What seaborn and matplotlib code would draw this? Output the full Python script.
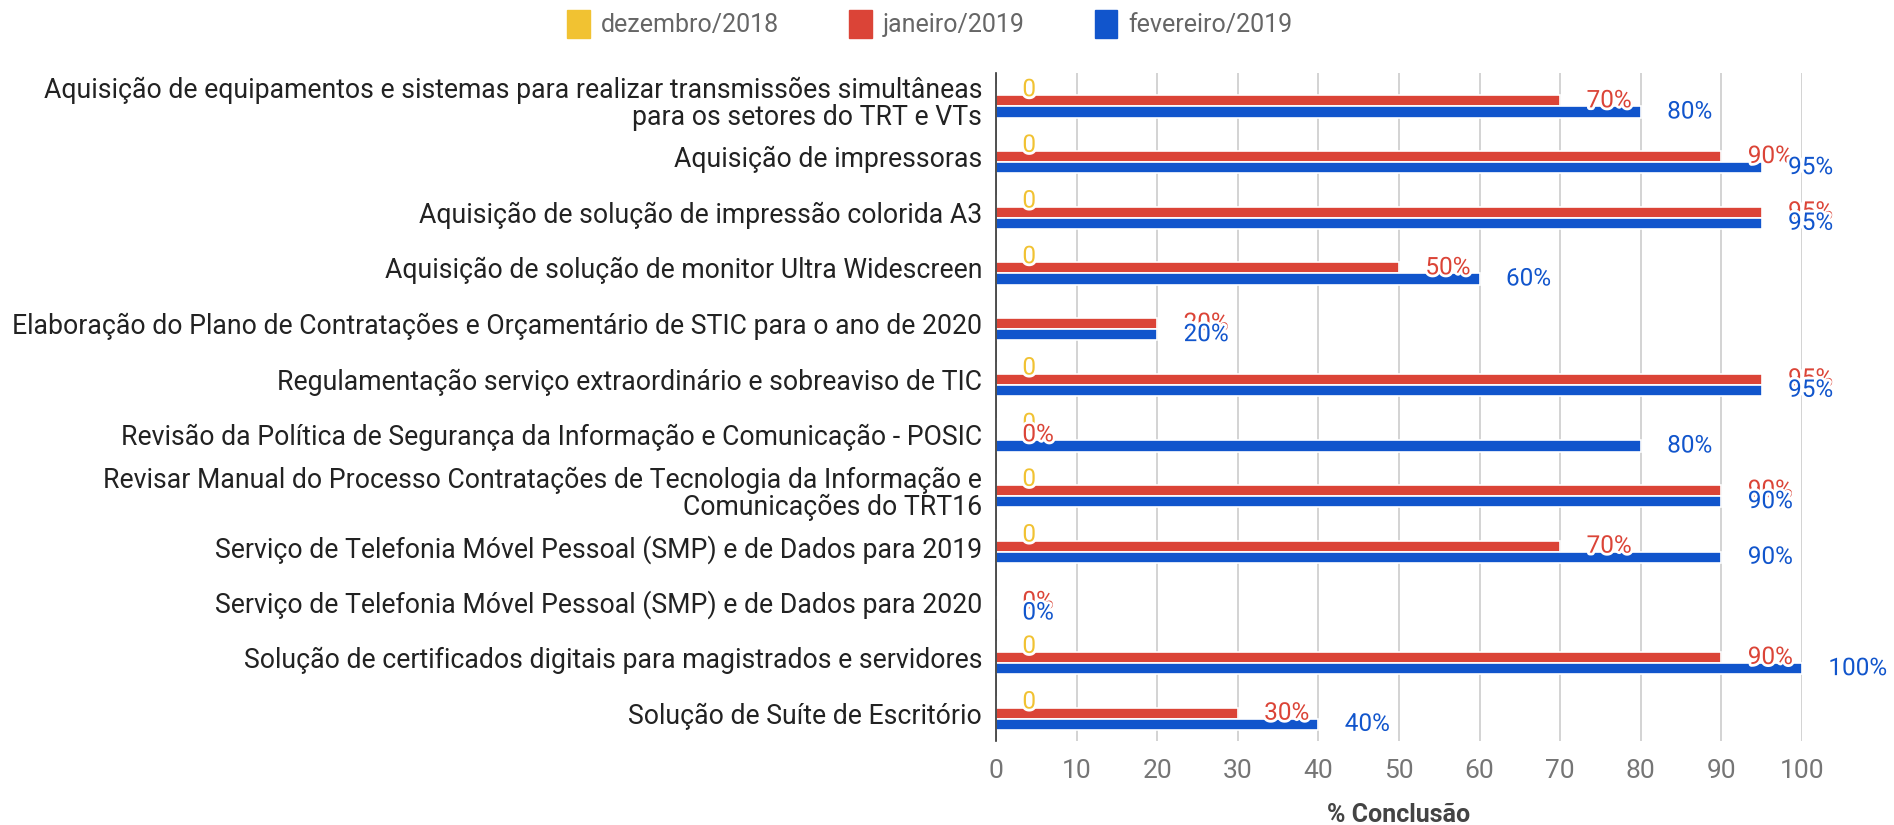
import pandas as pd
import numpy as np
import matplotlib
matplotlib.use('Agg')
import matplotlib.pyplot as plt
import matplotlib.patheffects as pe
import seaborn as sns

tarefas = [
    "Aquisição de equipamentos e sistemas para realizar transmissões simultâneas\npara os setores do TRT e VTs",
    "Aquisição de impressoras",
    "Aquisição de solução de impressão colorida A3",
    "Aquisição de solução de monitor Ultra Widescreen",
    "Elaboração do Plano de Contratações e Orçamentário de STIC para o ano de 2020",
    "Regulamentação serviço extraordinário e sobreaviso de TIC",
    "Revisão da Política de Segurança da Informação e Comunicação - POSIC",
    "Revisar Manual do Processo Contratações de Tecnologia da Informação e\nComunicações do TRT16",
    "Serviço de Telefonia Móvel Pessoal (SMP) e de Dados para 2019",
    "Serviço de Telefonia Móvel Pessoal (SMP) e de Dados para 2020",
    "Solução de certificados digitais para magistrados e servidores",
    "Solução de Suíte de Escritório",
]
meses = ["dezembro/2018", "janeiro/2019", "fevereiro/2019"]
dez_2018 = [0, 0, 0, 0, np.nan, 0, 0, 0, 0, np.nan, 0, 0]
jan_2019 = [70, 90, 95, 50, 20, 95, 0, 90, 70, 0, 90, 30]
fev_2019 = [80, 95, 95, 60, 20, 95, 80, 90, 90, 0, 100, 40]
cores = ["#F1C232", "#DB4437", "#1155CC"]

df = pd.DataFrame({"tarefa": tarefas, meses[0]: dez_2018, meses[1]: jan_2019, meses[2]: fev_2019})
df_long = df.melt(id_vars="tarefa", var_name="mes", value_name="valor")

plt.rcParams['font.family'] = ['Roboto', 'DejaVu Sans']
fig, ax = plt.subplots(figsize=(18.94, 8.25), dpi=100)
fig.subplots_adjust(left=996/1894, right=1802/1894, top=1-73/825, bottom=1-741/825)

sns.barplot(data=df_long, y="tarefa", x="valor", hue="mes", hue_order=meses,
            palette=cores, orient="h", width=0.6, dodge=True, errorbar=None,
            saturation=1, edgecolor="white", linewidth=1.2, ax=ax)

ax.set_xlim(0, 100)
ax.set_xticks(range(0, 101, 10))
ax.grid(axis="x", color="#cccccc", linewidth=1.2)
ax.grid(axis="y", visible=False)
ax.set_axisbelow(True)
for s in ["top", "right", "bottom"]:
    ax.spines[s].set_visible(False)
ax.spines["left"].set_color("#333333")
ax.spines["left"].set_linewidth(1.2)
ax.tick_params(axis="both", length=0)
ax.tick_params(axis="x", labelsize=19, labelcolor="#757575", pad=13)
ax.tick_params(axis="y", labelsize=19.2, labelcolor="#222222", pad=10)
for t in ax.get_yticklabels():
    t.set_linespacing(1.0)
ax.set_ylabel("")
ax.set_xlabel("% Conclusão", fontsize=18, fontweight="bold", color="#444444", labelpad=14)

# rótulos de dados com contorno branco
series = [dez_2018, jan_2019, fev_2019]
halo = [pe.withStroke(linewidth=4, foreground="white")]
for i, cont in enumerate(ax.containers):
    bars = [b for b in cont if b is not None]
    vals = [v for v in series[i] if not pd.isna(v)]
    for bar, v in zip(bars, vals):
        txt = f"{v:.0f}" if i == 0 else f"{v:.0f}%"
        y = bar.get_y() + bar.get_height() / 2
        ax.annotate(txt, (bar.get_width(), y), xytext=(19, 0), textcoords="offset points",
                    ha="left", va="center", fontsize=17.5, color=cores[i],
                    path_effects=halo, annotation_clip=False)

ax.legend_.remove()
handles = [plt.Rectangle((0, 0), 1, 1, color=c) for c in cores]
fig.legend(handles, meses, loc="center", bbox_to_anchor=(930/1894, 1-24/825),
           ncol=3, frameon=False, fontsize=18, labelcolor="#666666",
           handlelength=0.9, handleheight=1.3, columnspacing=2.8, handletextpad=0.45)

fig.savefig("out.png", dpi=100)
